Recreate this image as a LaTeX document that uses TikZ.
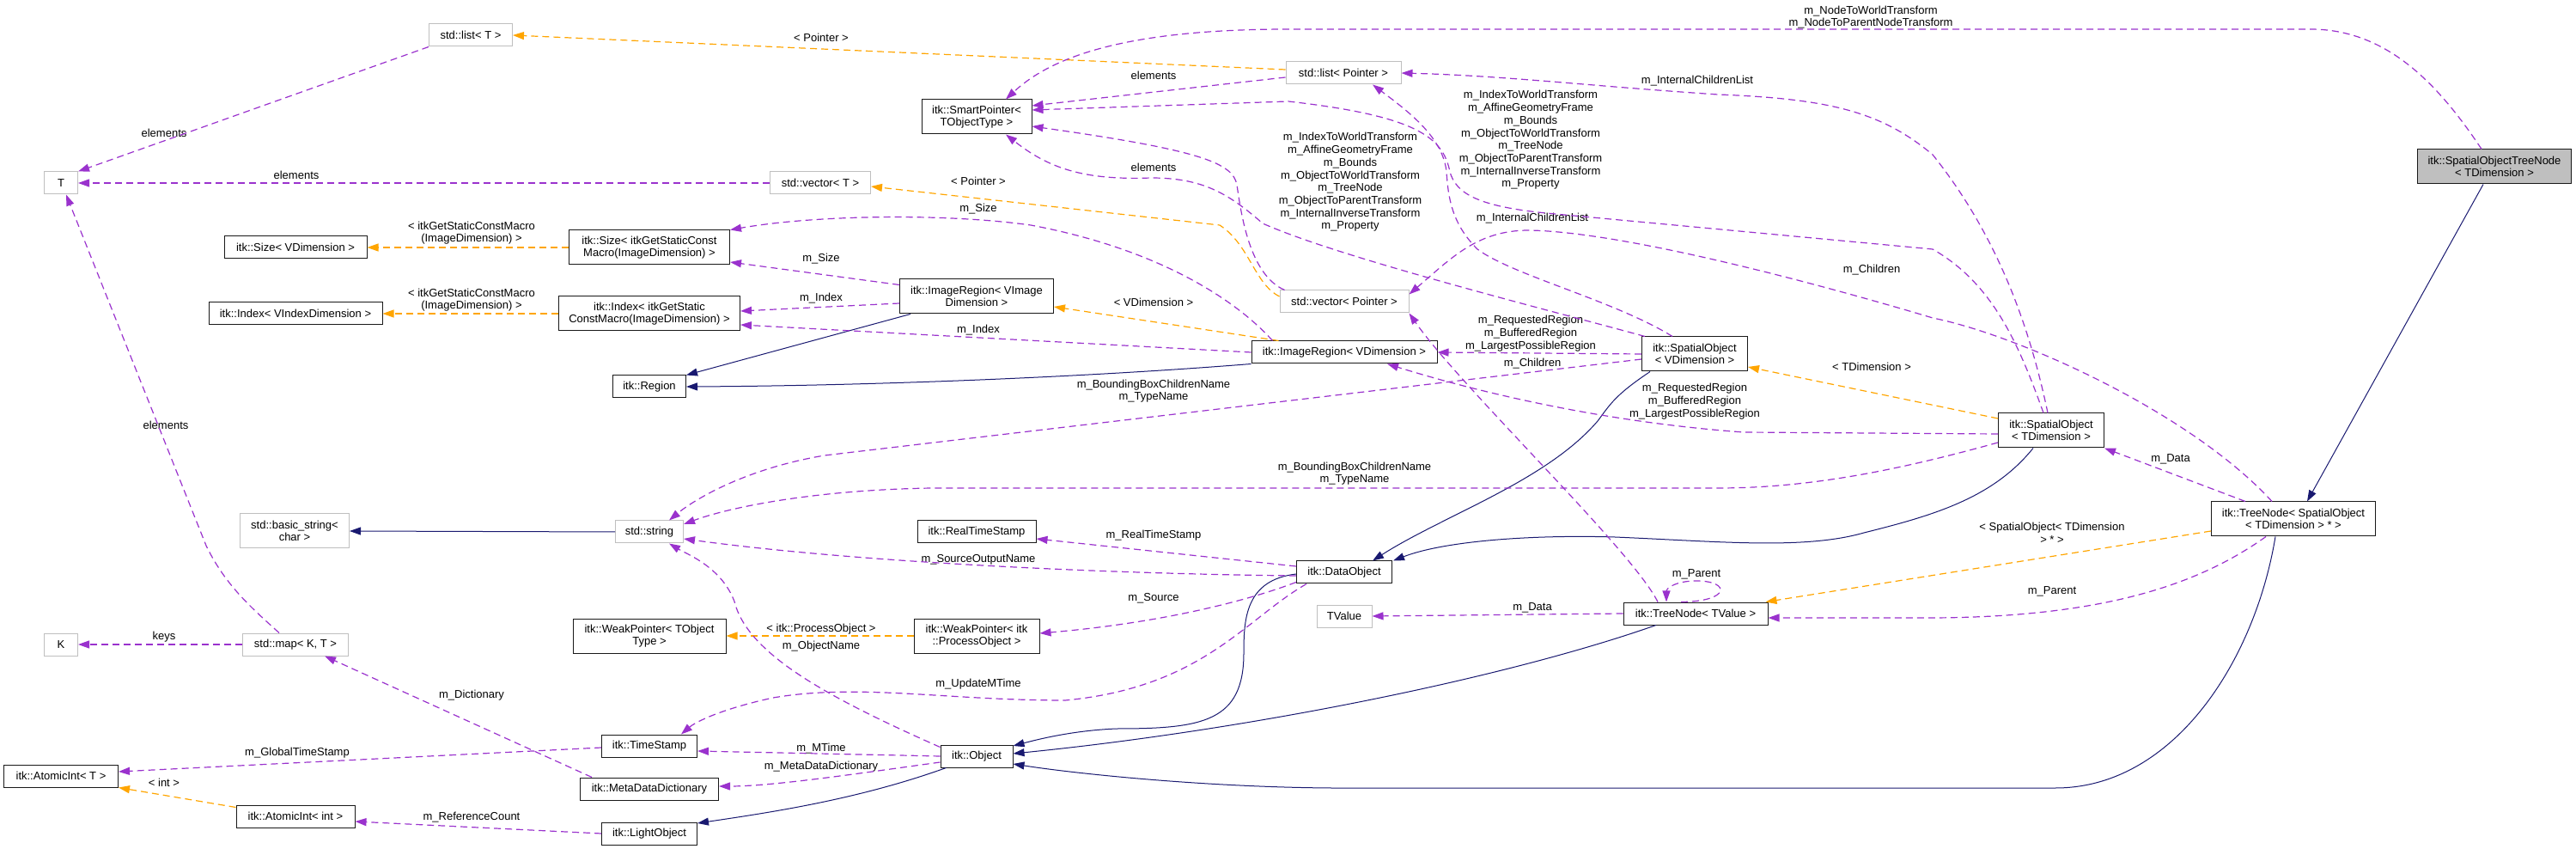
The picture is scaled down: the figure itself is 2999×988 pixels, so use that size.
\documentclass[tikz,border=0pt]{standalone}
\usepackage{fontspec}
\setmainfont{Liberation Sans}
\usetikzlibrary{arrows.meta, calc}

\definecolor{usecol}{HTML}{9A32CD}
\definecolor{tplcol}{HTML}{FFA500}
\definecolor{inhcol}{HTML}{191970}
\definecolor{extcol}{HTML}{BFBFBF}

\newcommand{\dxfont}{\fontsize{6.5}{7.35}\selectfont}

\tikzset{
  cls/.style={draw=black!90, line width=0.5pt, fill=white, font=\dxfont, align=center, inner sep=1pt, minimum height=13pt},
  ext/.style={cls, draw=extcol},
  focus/.style={cls, fill=extcol},
  two/.style={minimum height=20pt},
  use/.style={draw=usecol, line width=0.6pt, dash pattern=on 4pt off 2.5pt, -{Triangle[length=6.5pt, width=4.5pt, fill=usecol]}},
  tpl/.style={draw=tplcol, line width=0.6pt, dash pattern=on 4pt off 2.5pt, -{Triangle[length=6.5pt, width=4.5pt, fill=tplcol]}},
  inh/.style={draw=inhcol, line width=0.5pt, -{Triangle[length=6.5pt, width=4.5pt, fill=inhcol]}},
  lbl/.style={font=\dxfont, align=center, inner sep=0pt},
}

\begin{document}
\begin{tikzpicture}[x=0.5pt, y=-0.5pt]
  \useasboundingbox (0,0) rectangle (2999,988);

  % classes
  \node[ext, minimum width=48.5pt] (listT) at (548,41) {std::list< T >};
  \node[ext, minimum width=19.5pt] (T) at (71,213) {T};
  \node[cls, minimum width=83pt] (sizeV) at (344,288) {itk::Size< VDimension >};
  \node[cls, two, minimum width=93.5pt] (sizeG) at (756,288) {itk::Size< itkGetStaticConst\\Macro(ImageDimension) >};
  \node[cls, two, minimum width=64pt] (smartptr) at (1137,136) {itk::SmartPointer<\\TObjectType >};
  \node[ext, minimum width=58.5pt] (vectorT) at (955,213) {std::vector< T >};
  \node[ext, minimum width=67pt] (listP) at (1564,85) {std::list< Pointer >};
  \node[cls, minimum width=101pt] (indexV) at (344,365) {itk::Index< VIndexDimension >};
  \node[cls, two, minimum width=105.5pt] (indexG) at (756,365) {itk::Index< itkGetStatic\\ConstMacro(ImageDimension) >};
  \node[cls, minimum width=42.5pt] (region) at (756,450) {itk::Region};
  \node[cls, two, minimum width=89.5pt] (imgregV) at (1137,345) {itk::ImageRegion< VImage\\Dimension >};
  \node[ext, minimum width=75pt] (vectorP) at (1565,351) {std::vector< Pointer >};
  \node[cls, minimum width=108pt] (imgregD) at (1565,410) {itk::ImageRegion< VDimension >};
  \node[cls, two, minimum width=61.5pt] (spatialV) at (1973,412) {itk::SpatialObject\\< VDimension >};
  \node[cls, two, minimum width=61.5pt] (spatialT) at (2388,501) {itk::SpatialObject\\< TDimension >};
  \node[focus, two, minimum width=89.5pt] (sotn) at (2904,194) {itk::SpatialObjectTreeNode\\< TDimension >};
  \node[cls, two, minimum width=95.5pt] (treenodeSO) at (2670,604) {itk::TreeNode< SpatialObject\\< TDimension > * >};
  \node[ext, two, minimum width=63.5pt] (bstring) at (343,618) {std::basic\_string<\\char >};
  \node[ext, minimum width=39.5pt] (string) at (756,619) {std::string};
  \node[cls, minimum width=69pt] (realts) at (1137,619) {itk::RealTimeStamp};
  \node[cls, minimum width=55.5pt] (dataobj) at (1565,666) {itk::DataObject};
  \node[ext, minimum width=32pt] (tvalue) at (1565,717) {TValue};
  \node[cls, minimum width=84pt] (treenodeT) at (1974,714) {itk::TreeNode< TValue >};
  \node[ext, minimum width=19.5pt] (K) at (71,750) {K};
  \node[ext, minimum width=61.5pt] (map) at (344,750) {std::map< K, T >};
  \node[cls, two, minimum width=89pt] (weakG) at (756,740) {itk::WeakPointer< TObject\\Type >};
  \node[cls, two, minimum width=73pt] (weakP) at (1137,740) {itk::WeakPointer< itk\\::ProcessObject >};
  \node[cls, minimum width=42pt] (object) at (1137,880) {itk::Object};
  \node[cls, minimum width=55.5pt] (timestamp) at (756,868) {itk::TimeStamp};
  \node[cls, minimum width=80.5pt] (metadict) at (756,918) {itk::MetaDataDictionary};
  \node[cls, minimum width=55.5pt] (lightobj) at (756,970) {itk::LightObject};
  \node[cls, minimum width=66.5pt] (atomicT) at (71,903) {itk::AtomicInt< T >};
  \node[cls, minimum width=69pt] (atomicI) at (344,950) {itk::AtomicInt< int >};

  % edge labels
  \node[lbl] (lElemList) at (191,155) {elements};
  \node[lbl] (lElemVec) at (345,204) {elements};
  \node[lbl] (lElemMap) at (193,495) {elements};
  \node[lbl] (lKeys) at (191,741) {keys};
  \node[lbl] (lPtrList) at (956,44) {< Pointer >};
  \node[lbl] (lElemLP) at (1343,88) {elements};
  \node[lbl] (lElemVP) at (1343,195) {elements};
  \node[lbl] (lPtrVec) at (1139,211) {< Pointer >};
  \node[lbl] (lSizeD) at (1139,243) {m\_Size};
  \node[lbl] (lSizeV) at (956,301) {m\_Size};
  \node[lbl] (lIdxV) at (956,347) {m\_Index};
  \node[lbl] (lIdxD) at (1139,384) {m\_Index};
  \node[lbl] (lVDim) at (1343,352) {< VDimension >};
  \node[lbl] (lGetSize) at (549,271) {< itkGetStaticConstMacro\\(ImageDimension) >};
  \node[lbl] (lGetIdx) at (549,349) {< itkGetStaticConstMacro\\(ImageDimension) >};
  \node[lbl] (lNodeXf) at (2178,20) {m\_NodeToWorldTransform\\m\_NodeToParentNodeTransform};
  \node[lbl] (lICLT) at (1976,94) {m\_InternalChildrenList};
  \node[lbl] (lXfT) at (1782,163) {m\_IndexToWorldTransform\\m\_AffineGeometryFrame\\m\_Bounds\\m\_ObjectToWorldTransform\\m\_TreeNode\\m\_ObjectToParentTransform\\m\_InternalInverseTransform\\m\_Property};
  \node[lbl] (lXfV) at (1572,212) {m\_IndexToWorldTransform\\m\_AffineGeometryFrame\\m\_Bounds\\m\_ObjectToWorldTransform\\m\_TreeNode\\m\_ObjectToParentTransform\\m\_InternalInverseTransform\\m\_Property};
  \node[lbl] (lICLV) at (1784,254) {m\_InternalChildrenList};
  \node[lbl] (lChildSO) at (2179,314) {m\_Children};
  \node[lbl] (lRegV) at (1782,388) {m\_RequestedRegion\\m\_BufferedRegion\\m\_LargestPossibleRegion};
  \node[lbl] (lChildT) at (1784,423) {m\_Children};
  \node[lbl] (lTDim) at (2179,427) {< TDimension >};
  \node[lbl] (lRegT) at (1973,467) {m\_RequestedRegion\\m\_BufferedRegion\\m\_LargestPossibleRegion};
  \node[lbl] (lNameV) at (1343,455) {m\_BoundingBoxChildrenName\\m\_TypeName};
  \node[lbl] (lNameT) at (1577,551) {m\_BoundingBoxChildrenName\\m\_TypeName};
  \node[lbl] (lData) at (2527,534) {m\_Data};
  \node[lbl] (lSOtpl) at (2389,620) {< SpatialObject< TDimension\\> * >};
  \node[lbl] (lRealTS) at (1343,623) {m\_RealTimeStamp};
  \node[lbl] (lSrcOut) at (1139,651) {m\_SourceOutputName};
  \node[lbl] (lParentSelf) at (1975,668) {m\_Parent};
  \node[lbl] (lSource) at (1343,696) {m\_Source};
  \node[lbl] (lParent) at (2389,688) {m\_Parent};
  \node[lbl] (lDataT) at (1784,707) {m\_Data};
  \node[lbl] (lProcObj) at (956,732) {< itk::ProcessObject >};
  \node[lbl] (lObjName) at (956,752) {m\_ObjectName};
  \node[lbl] (lUpdMT) at (1139,796) {m\_UpdateMTime};
  \node[lbl] (lDict) at (549,809) {m\_Dictionary};
  \node[lbl] (lMTime) at (956,871) {m\_MTime};
  \node[lbl] (lMDD) at (956,892) {m\_MetaDataDictionary};
  \node[lbl] (lGlobTS) at (346,876) {m\_GlobalTimeStamp};
  \node[lbl] (lInt) at (191,911) {< int >};
  \node[lbl] (lRefCnt) at (549,951) {m\_ReferenceCount};

  % inheritance
  \draw[inh] (string.west) -- (bstring.east);
  \draw[inh] ($(imgregV.south west)+(13,0)$) -- (region.north east);
  \draw[inh] (imgregD.south west) .. controls (1250,440) and (1000,449) .. (region.east);
  \draw[inh] ($(spatialV.south)+(-52,0)$) .. controls (1880,460) and (1875,470) .. (1860,490) .. controls (1800,560) and (1680,600) .. ($(dataobj.north)+(33,0)$);
  \draw[inh] ($(spatialT.south)+(-21,0)$) .. controls (2320,580) and (2250,600) .. (2170,620) .. controls (2100,640) and (2000,630) .. (1880,625) .. controls (1780,622) and (1680,630) .. ($(dataobj.north)+(57,0)$);
  \draw[inh] ($(dataobj.west)+(0,2)$) .. controls (1450,675) and (1448,720) .. (1448,760) .. controls (1448,840) and (1400,848) .. (1300,848) .. controls (1250,850) and (1210,860) .. ($(object.east)+(0,-12)$);
  \draw[inh] ($(treenodeT.south)+(-46,0)$) .. controls (1750,790) and (1450,850) .. ($(object.east)+(0,-3)$);
  \draw[inh] ($(treenodeSO.south)+(-21,0)$) .. controls (2625,770) and (2530,917) .. (2393,917) -- (1550,917) .. controls (1400,916) and (1250,900) .. ($(object.east)+(0,9)$);
  \draw[inh] ($(object.south west)+(7,0)$) .. controls (1000,930) and (900,945) .. ($(lightobj.east)+(0,-12)$);
  \draw[inh] ($(sotn.south)+(-13,0)$) -- ($(treenodeSO.north)+(16,0)$);

  % template instances
  \draw[tpl] ($(listP.west)+(0,-4)$) -- (listT.east);
  \draw[tpl] ($(vectorP.west)+(0,-6)$) .. controls (1460,330) and (1455,285) .. (1420,262) -- ($(vectorT.east)+(0,4)$);
  \draw[tpl] (sizeG.west) -- (sizeV.east);
  \draw[tpl] (indexG.west) -- (indexV.east);
  \draw[tpl] ($(imgregD.north west)+(32,0)$) -- ($(imgregV.east)+(0,12)$);
  \draw[tpl] ($(spatialT.west)+(0,-14)$) -- ($(spatialV.east)+(0,15)$);
  \draw[tpl] ($(treenodeSO.west)+(0,14)$) -- ($(treenodeT.north east)+(-3,0)$);
  \draw[tpl] (weakP.west) -- (weakG.east);
  \draw[tpl] ($(atomicI.north west)+(0,3)$) -- (atomicT.south east);

  % members
  \draw[use] (listT.south west) -- (T.north east);
  \draw[use] (vectorT.west) -- (T.east);
  \draw[use] ($(map.north)+(-19,0)$) .. controls (290,705) and (262,680) .. (240,635) -- ($(T.south)+(6,0)$);
  \draw[use] (map.west) -- (K.east);
  \draw[use] ($(listP.west)+(0,5)$) -- ($(smartptr.east)+(0,-13)$);
  \draw[use] ($(vectorP.north west)+(6,0)$) .. controls (1455,320) and (1445,250) .. (1440,215) .. controls (1435,190) and (1400,175) .. ($(smartptr.east)+(0,11)$);
  \draw[use] ($(spatialT.north)+(-9,0)$) .. controls (2350,400) and (2320,330) .. (2250,290) -- (1800,248) .. controls (1720,240) and (1695,225) .. (1688,200) .. controls (1680,160) and (1650,135) .. (1500,118) -- ($(smartptr.east)+(0,-8)$);
  \draw[use] ($(spatialV.north west)+(4,0)$) .. controls (1800,360) and (1560,300) .. (1470,260) .. controls (1430,225) and (1400,207) .. (1340,207) .. controls (1260,210) and (1220,195) .. ($(smartptr.south)+(34,0)$);
  \draw[use] ($(sotn.north)+(-15,0)$) .. controls (2840,100) and (2780,34) .. (2690,34) -- (1500,34) .. controls (1300,34) and (1220,70) .. ($(smartptr.north)+(34,0)$);
  \draw[use] ($(spatialT.north)+(-4,0)$) .. controls (2365,390) and (2330,280) .. (2250,180) .. controls (2190,130) and (2130,115) .. (2000,110) .. controls (1850,100) and (1750,88) .. (listP.east);
  \draw[use] ($(spatialV.north)+(-26,0)$) .. controls (1880,350) and (1760,320) .. (1720,290) .. controls (1690,260) and (1686,230) .. (1684,200) .. controls (1680,160) and (1640,130) .. ($(listP.south)+(34,0)$);
  \draw[use] ($(treenodeSO.north)+(-25,0)$) .. controls (2550,480) and (2350,390) .. (2250,370) .. controls (2150,340) and (1900,270) .. (1780,268) .. controls (1720,268) and (1690,300) .. ($(vectorP.north east)+(0,5)$);
  \draw[use] ($(treenodeT.north)+(-44,0)$) .. controls (1900,640) and (1700,450) .. (vectorP.south east);
  \draw[use] (spatialV.west) -- (imgregD.east);
  \draw[use] ($(spatialV.west)+(0,6)$) -- (960,530) .. controls (870,545) and (810,580) .. ($(string.north)+(23,0)$);
  \draw[use] ($(spatialT.west)+(0,4)$) -- (2030,503) .. controls (1850,490) and (1700,450) .. ($(imgregD.south)+(50,0)$);
  \draw[use] ($(spatialT.west)+(0,14)$) .. controls (2200,550) and (2100,568) .. (2000,568) -- (1085,568) .. controls (950,570) and (850,590) .. ($(string.east)+(0,-9)$);
  \draw[use] ($(treenodeSO.north)+(-56,0)$) -- (spatialT.south east);
  \draw[use] ($(treenodeSO.south)+(-32,0)$) .. controls (2560,680) and (2450,718) .. (2250,719) -- ($(treenodeT.east)+(0,5)$);
  \draw[use] ($(treenodeT.north)+(-17,0)$) .. controls (2015,700) and (2015,676) .. (1975,676) .. controls (1950,676) and (1940,685) .. ($(treenodeT.north)+(-34,0)$);
  \draw[use] (treenodeT.west) -- (tvalue.east);
  \draw[use] ($(dataobj.west)+(0,-7)$) -- ($(realts.east)+(0,8)$);
  \draw[use] ($(dataobj.west)+(0,4)$) .. controls (1300,668) and (1000,655) .. ($(string.east)+(0,8)$);
  \draw[use] ($(dataobj.south west)+(0,-2)$) .. controls (1450,700) and (1350,725) .. ($(weakP.east)+(0,-3)$);
  \draw[use] ($(dataobj.south west)+(12,0)$) .. controls (1450,720) and (1400,800) .. (1240,815) .. controls (1100,815) and (1000,795) .. (900,812) .. controls (840,825) and (810,840) .. ($(timestamp.north)+(37,0)$);
  \draw[use] ($(object.north west)+(0,3)$) .. controls (960,810) and (870,760) .. (855,700) .. controls (840,660) and (800,645) .. ($(string.south)+(23,0)$);
  \draw[use] (object.west) -- ($(timestamp.east)+(0,6)$);
  \draw[use] ($(object.west)+(0,7)$) .. controls (1000,900) and (900,915) .. ($(metadict.east)+(0,-3)$);
  \draw[use] ($(imgregV.west)+(0,8)$) -- ($(indexG.east)+(0,-3)$);
  \draw[use] ($(imgregV.north west)+(0,7)$) -- ($(sizeG.east)+(0,17)$);
  \draw[use] ($(imgregD.north west)+(25,0)$) .. controls (1440,350) and (1350,290) .. (1200,262) .. controls (1100,248) and (950,250) .. (sizeG.north east);
  \draw[use] (imgregD.west) -- ($(indexG.east)+(0,13)$);
  \draw[use] ($(timestamp.west)+(0,2)$) -- ($(atomicT.east)+(0,-5)$);
  \draw[use] ($(metadict.north west)+(14,0)$) -- ($(map.south east)+(-28,0)$);
  \draw[use] (lightobj.west) -- ($(atomicI.east)+(0,6)$);
\end{tikzpicture}
\end{document}
